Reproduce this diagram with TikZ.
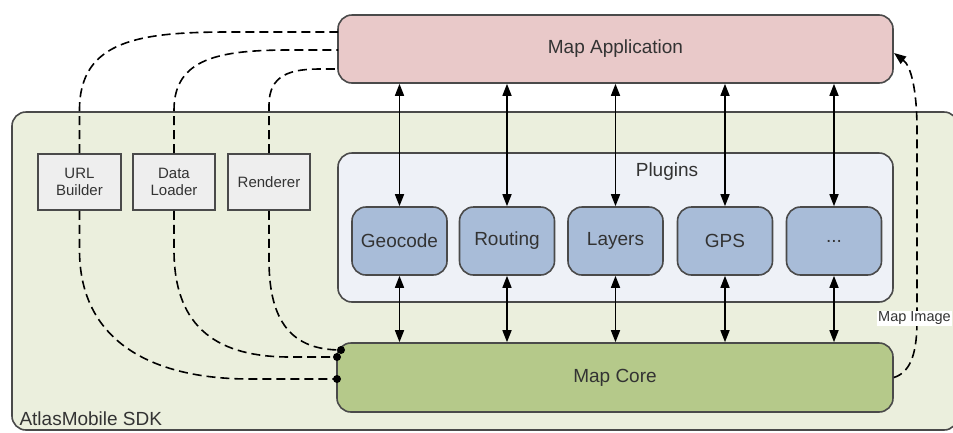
\documentclass[tikz,border=0pt]{standalone}
\usepackage{fontspec}
\setmainfont{Liberation Sans}
\usetikzlibrary{arrows.meta}
\definecolor{appfill}{HTML}{E9C9C9}
\definecolor{sdkfill}{HTML}{EBEFDD}
\definecolor{plugfill}{HTML}{EEF1F7}
\definecolor{pbox}{HTML}{A8BCD8}
\definecolor{corefill}{HTML}{B5C98A}
\definecolor{smallfill}{HTML}{EEEEEE}
\definecolor{edge}{HTML}{4A4A4A}
\definecolor{txt}{HTML}{333333}
\tikzset{
  bigtext/.style={font=\fontsize{19}{22}\selectfont, text=txt},
  smalltext/.style={font=\fontsize{15}{17}\selectfont, text=txt, align=center},
  rbox/.style={draw=edge, line width=1.6pt, rounded corners=14pt, inner sep=0pt},
  sbox/.style={draw=edge, line width=1.6pt, fill=smallfill, inner sep=0pt, minimum height=56pt, smalltext},
  pluginbox/.style={rbox, fill=pbox, minimum width=95pt, minimum height=68pt, bigtext},
  dashline/.style={dash pattern=on 9pt off 5pt, line width=1.6pt, black},
  tip/.tip={Triangle[length=12pt,width=9pt]},
  biarrow/.style={line width=1.5pt, tip-tip},
  dotmark/.style={circle, fill=black, inner sep=0pt, minimum size=8pt}
}
\begin{document}
\begin{tikzpicture}[x=1pt,y=-1pt]
\useasboundingbox (0,0) rectangle (953,432);
% SDK container
\node[rbox, fill=sdkfill, minimum width=946pt, minimum height=318pt] (sdk) at (485,271) {};
\node[bigtext, anchor=west] (sdklabel) at (16,419) {AtlasMobile SDK};
% Map Application
\node[rbox, fill=appfill, minimum width=555pt, minimum height=68pt, bigtext] (app) at (615.5,49) {Map Application};
% Plugins
\node[rbox, fill=plugfill, minimum width=555pt, minimum height=149pt] (plugins) at (615.5,227.5) {};
\node[bigtext] (pluglabel) at (667,172) {Plugins};
\node[pluginbox] (geo) at (399.5,241) {Geocode};
\node[pluginbox] (rout) at (507,241) {Routing};
\node[pluginbox] (lay) at (615.5,241) {Layers};
\node[pluginbox] (gps) at (725,241) {GPS};
\node[pluginbox] (more) at (834,241) {...};
% Map Core
\node[rbox, fill=corefill, minimum width=556pt, minimum height=69pt, bigtext] (core) at (615,377.5) {Map Core};
% small boxes
\node[sbox, minimum width=83pt] (url) at (79.5,182) {URL\\Builder};
\node[sbox, minimum width=82pt] (data) at (174,182) {Data\\Loader};
\node[sbox, minimum width=82pt] (rend) at (269,182) {Renderer};
% arrows
\foreach \p in {geo,rout,lay,gps,more}{
  \draw[biarrow] (\p.north |- app.south) -- (\p.north);
  \draw[biarrow] (\p.south) -- (\p.south |- core.north);
}
% dashed to app
\coordinate (a1) at (338,32);
\coordinate (a2) at (338,50);
\coordinate (a3) at (338,69);
\draw[dashline] (url.north) -- (79.5,110) .. controls (79.5,40) and (140,32) .. (230,32) -- (a1);
\draw[dashline] (data.north) -- (174,110) .. controls (174,58) and (220,50) .. (290,50) -- (a2);
\draw[dashline] (rend.north) -- (269,105) .. controls (269,75) and (290,69) .. (320,69) -- (a3);
% dashed to core
\coordinate (b1) at (337,379);
\coordinate (b2) at (337,357);
\coordinate (b3) at (341,350);
\draw[dashline] (url.south) -- (79.5,250) .. controls (79.5,340) and (150,379) .. (250,379) -- (b1);
\draw[dashline] (data.south) -- (174,250) .. controls (174,330) and (220,357) .. (290,357) -- (b2);
\draw[dashline] (rend.south) -- (269,260) .. controls (269,322) and (292,350) .. (b3);
\node[dotmark] (d1) at (b1) {};
\node[dotmark] (d2) at (b2) {};
\node[dotmark] (d3) at (b3) {};
% map image
\coordinate (c1) at (894,53);
\draw[dashline, -tip] (core.east) .. controls (912,372) and (917,350) .. (917,320) -- (917,130) .. controls (917,90) and (911,66) .. (c1);
\node[fill=white, inner sep=1pt, anchor=west, font=\fontsize{14.5}{17}\selectfont, text=txt] (mi) at (877,318) {Map Image};
\end{tikzpicture}
\end{document}
